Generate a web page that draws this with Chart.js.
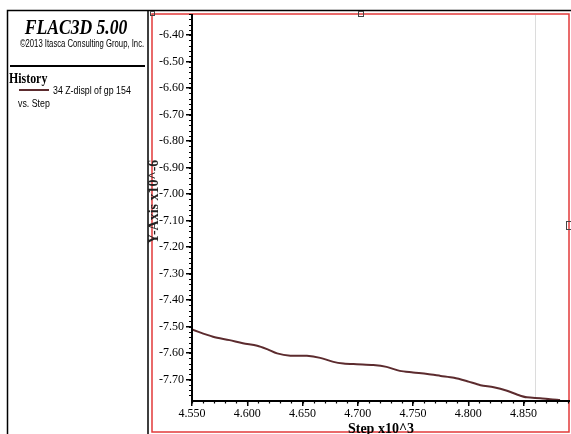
<!DOCTYPE html>
<html><head><meta charset="utf-8">
<script src="https://cdn.jsdelivr.net/npm/chart.js@4"></script>
<style>
html,body{margin:0;padding:0;background:#fff;overflow:hidden}
#wrap{position:absolute;left:0;top:0;width:571px;height:434px}
</style></head>
<body><div id="wrap"><canvas id="c" width="571" height="434"></canvas></div>
<script>
// Step (x10^3)
const steps = [4.550,4.569,4.584,4.596,4.609,4.618,4.627,4.639,4.654,4.666,4.678,4.687,4.699,4.714,4.726,4.738,4.750,4.763,4.775,4.787,4.799,4.811,4.823,4.835,4.844,4.853,4.865,4.874,4.883];
// Z-displ of gp 154 (x10^-6)
const zDispl = [-7.511,-7.538,-7.551,-7.563,-7.572,-7.585,-7.601,-7.610,-7.610,-7.618,-7.633,-7.639,-7.642,-7.645,-7.652,-7.667,-7.673,-7.679,-7.686,-7.693,-7.706,-7.721,-7.729,-7.742,-7.756,-7.767,-7.770,-7.774,-7.777];
const xTicks = [4.55,4.60,4.65,4.70,4.75,4.80,4.85];
const yTicks = [-7.7,-7.6,-7.5,-7.4,-7.3,-7.2,-7.1,-7.0,-6.9,-6.8,-6.7,-6.6,-6.5,-6.4];
const seriesLabel = '34 Z-displ of gp 154';
const xTitle = 'Step x10^3';
const yTitle = 'Y-Axis x10^-6';

const lineColor = '#5c2b2e';

function squeezed(ctx, text, x, y, font, sx, align){
  ctx.save();
  ctx.font = font;
  ctx.textAlign = align;
  ctx.translate(x, y);
  ctx.scale(sx, 1);
  ctx.fillText(text, 0, 0);
  ctx.restore();
}

const frame = {
  id:'frame',
  beforeDraw(chart){
    const ctx = chart.ctx;
    ctx.save();
    ctx.fillStyle='#fff';ctx.fillRect(0,0,571,434);
    // left panel
    ctx.strokeStyle='#000';ctx.lineWidth=1.5;
    ctx.beginPath();
    ctx.moveTo(7.5,440);ctx.lineTo(7.5,10.5);ctx.lineTo(571,10.5);
    ctx.moveTo(148,10.5);ctx.lineTo(148,440);
    ctx.stroke();
    ctx.lineWidth=2;
    ctx.beginPath();ctx.moveTo(10,66);ctx.lineTo(145,66);ctx.stroke();
    // red rect
    ctx.strokeStyle='#e23a3a';ctx.lineWidth=1.5;
    ctx.strokeRect(152,14,417,418);
    // small handles
    ctx.strokeStyle='#444';ctx.lineWidth=1;
    ctx.strokeRect(358.5,11.5,5,5);
    ctx.strokeRect(566.5,221.5,5,8);
    ctx.strokeRect(150.5,11.5,4,4);
    // texts
    ctx.fillStyle='#000';ctx.textBaseline='alphabetic';
    squeezed(ctx,'FLAC3D 5.00',76,34,'italic bold 22px "Liberation Serif"',0.8,'center');
    squeezed(ctx,'\u00A92013 Itasca Consulting Group, Inc.',82,47,'10px "Liberation Sans"',0.77,'center');
    squeezed(ctx,'History',9,83,'bold 14px "Liberation Serif"',0.85,'left');
    squeezed(ctx,chart.data.datasets[0].label,53,94,'11px "Liberation Sans"',0.8,'left');
    squeezed(ctx,'vs. Step',18,107,'11px "Liberation Sans"',0.8,'left');
    ctx.strokeStyle=lineColor;ctx.lineWidth=2;
    ctx.beginPath();ctx.moveTo(19,90);ctx.lineTo(49,90);ctx.stroke();
    // faint vertical grid line
    ctx.strokeStyle='#dcdcdc';ctx.lineWidth=1;
    ctx.beginPath();ctx.moveTo(535.5,15);ctx.lineTo(535.5,399);ctx.stroke();
    ctx.restore();
  },
  afterDatasetsDraw(chart){
    const ctx=chart.ctx, xs=chart.scales.x, ys=chart.scales.y, a=chart.chartArea;
    ctx.save();
    ctx.strokeStyle='#000';ctx.lineWidth=1.2;
    ctx.beginPath();
    for(let v=4.55; v<=xs.max+1e-9; v+=0.01){
      const px=Math.round(xs.getPixelForValue(v))+0.5;
      ctx.moveTo(px,a.bottom);ctx.lineTo(px,a.bottom+3.5);
    }
    for(let v=-7.7; v<=ys.max+1e-9; v+=0.02){
      const py=Math.round(ys.getPixelForValue(v))+0.5;
      ctx.moveTo(a.left,py);ctx.lineTo(a.left-3,py);
    }
    for(let v=-7.72; v>=ys.min; v-=0.02){
      const py=Math.round(ys.getPixelForValue(v))+0.5;
      ctx.moveTo(a.left,py);ctx.lineTo(a.left-3,py);
    }
    ctx.stroke();
    // axis lines
    ctx.lineWidth=2;
    ctx.beginPath();
    ctx.moveTo(a.left,a.top);ctx.lineTo(a.left,a.bottom+1);ctx.lineTo(a.right,a.bottom+1);
    ctx.stroke();
    ctx.restore();
  }
};

new Chart(document.getElementById('c'),{
  type:'line',
  data:{datasets:[{label:seriesLabel,data:steps.map((s,i)=>({x:s,y:zDispl[i]})),borderColor:lineColor,borderWidth:2,pointRadius:0,tension:0.3,fill:false}]},
  options:{
    responsive:false,animation:false,devicePixelRatio:1,
    layout:{padding:{left:152,right:1,top:14,bottom:0}},
    plugins:{legend:{display:false},tooltip:{enabled:false}},
    scales:{
      x:{type:'linear',min:4.55,max:4.892,
        afterBuildTicks(s){s.ticks=xTicks.map(v=>({value:v}));},
        afterFit(s){s.height=34;},
        grid:{drawOnChartArea:false,drawTicks:true,tickLength:6,color:'#000',tickColor:'#000',lineWidth:1.5},
        border:{display:false},
        ticks:{color:'#000',padding:1,maxRotation:0,autoSkip:false,font:{family:'"Liberation Serif"',size:12},callback:v=>v.toFixed(3)},
        title:{display:true,text:xTitle,color:'#000',font:{family:'"Liberation Serif"',size:14,weight:'bold'},padding:{top:0,bottom:-4}}
      },
      y:{type:'linear',min:-7.777,max:-6.32,
        afterBuildTicks(s){s.ticks=yTicks.map(v=>({value:v}));},
        afterFit(s){s.width=40;},
        grid:{drawOnChartArea:false,drawTicks:true,tickLength:6,color:'#000',tickColor:'#000',lineWidth:1.5},
        border:{display:false},
        ticks:{color:'#000',padding:2,autoSkip:false,font:{family:'"Liberation Serif"',size:12},callback:v=>v.toFixed(2)},
        title:{display:true,text:'   '+yTitle,color:'#222',font:{family:'"Liberation Serif"',size:14,weight:'bold'},padding:{top:-6,bottom:0}}
      }
    }
  },
  plugins:[frame]
});
</script></body></html>
